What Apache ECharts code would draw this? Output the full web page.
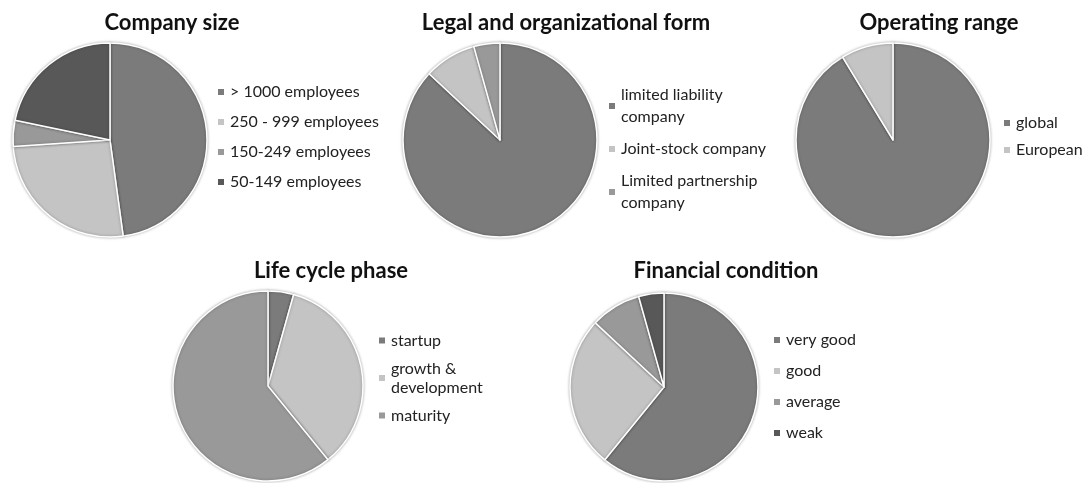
<!DOCTYPE html>
<html>
<head>
<meta charset="utf-8">
<script src="https://cdn.jsdelivr.net/npm/echarts@6/dist/echarts.min.js"></script>
<style>
  html, body { margin: 0; padding: 0; background: #fff; }
  #chart { width: 1089px; height: 483px; }
</style>
</head>
<body>
<div id="chart"></div>
<script>
// survey answers (23 companies)
const sizeNames = ['> 1000 employees', '250 - 999 employees', '150-249 employees', '50-149 employees']
const sizeValues = [11, 6, 1, 5]
const legalNames = ['limited liability company', 'Joint-stock company', 'Limited partnership company']
const legalValues = [20, 2, 1]
const rangeNames = ['global', 'European']
const rangeValues = [21, 2]
const phaseNames = ['startup', 'growth & development', 'maturity']
const phaseValues = [1, 8, 14]
const financeNames = ['very good', 'good', 'average', 'weak']
const financeValues = [14, 6, 2, 1]

const titles = ['Company size', 'Legal and organizational form', 'Operating range', 'Life cycle phase', 'Financial condition']

// grey palette
const MAIN = '#7b7b7b', LIGHT = '#c4c4c4', MID = '#999999', DARK = '#585858'

// wrapped legend labels
const wrap = {
  'limited liability company': 'limited liability\ncompany',
  'Limited partnership company': 'Limited partnership\ncompany',
  'growth & development': 'growth &\ndevelopment'
}

const FONT = 'Lato'

function pie(names, values, colors, center, radius) {
  return {
    type: 'pie',
    center: center,
    radius: radius,
    startAngle: 90,
    clockwise: true,
    label: { show: false },
    labelLine: { show: false },
    emphasis: { disabled: true },
    itemStyle: {
      borderColor: '#fff',
      borderWidth: 1.5,
      shadowBlur: 3,
      shadowColor: 'rgba(0,0,0,0.3)'
    },
    data: names.map((n, i) => ({ name: n, value: values[i], itemStyle: { color: colors[i] } }))
  }
}

// left/top given as marker position, legend padding is 0
function legend(names, left, top, gap, lh) {
  return {
    orient: 'vertical',
    left: left,
    top: top,
    padding: 0,
    data: names,
    icon: 'rect',
    itemWidth: 8,
    itemHeight: 8,
    itemGap: gap,
    selectedMode: false,
    formatter: n => wrap[n] || n,
    textStyle: { fontFamily: FONT, fontSize: 16, color: '#222', lineHeight: lh }
  }
}

const titlePos = [[167, 7], [561, 7], [934, 7], [326, 255], [721, 255]]

const chart = echarts.init(document.getElementById('chart'), null, { renderer: 'canvas' })
chart.setOption({
  animation: false,
  backgroundColor: '#fff',
  title: titles.map((t, i) => ({
    text: t,
    left: titlePos[i][0],
    top: titlePos[i][1],
    textAlign: 'center',
    textStyle: { fontFamily: FONT, fontSize: 22, fontWeight: 'bold', color: '#111' }
  })),
  legend: [
    legend(sizeNames, 216, 82, 10, 20),
    legend(legalNames, 607, 84, 10, 22),
    legend(rangeNames, 1002, 113, 7, 20),
    legend(phaseNames, 377, 331, 9, 19),
    legend(financeNames, 772, 330, 11, 20)
  ],
  series: [
    pie(sizeNames, sizeValues, [MAIN, LIGHT, MID, DARK], [110, 140], 97),
    pie(legalNames, legalValues, [MAIN, LIGHT, MID], [500, 140], 97),
    pie(rangeNames, rangeValues, [MAIN, LIGHT], [893, 140], 97),
    pie(phaseNames, phaseValues, [MAIN, LIGHT, MID], [268, 386], 95),
    pie(financeNames, financeValues, [MAIN, LIGHT, MID, DARK], [664, 387], 94)
  ]
})
</script>
</body>
</html>
